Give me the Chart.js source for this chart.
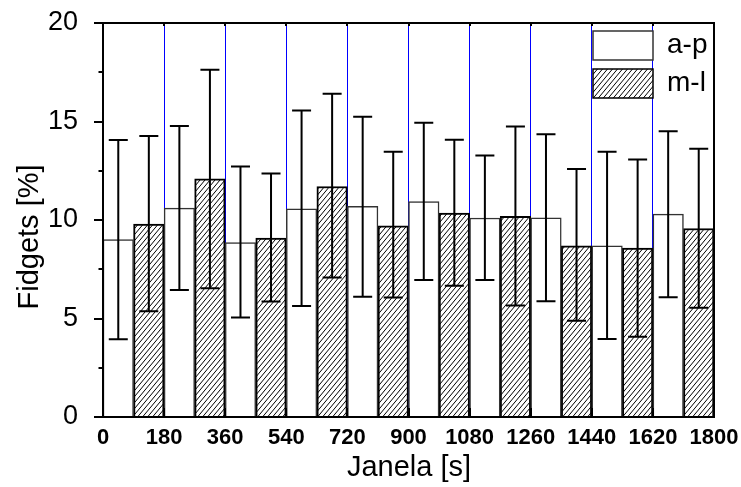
<!DOCTYPE html>
<html>
<head>
<meta charset="utf-8">
<script src="https://cdn.jsdelivr.net/npm/chart.js@4/dist/chart.umd.min.js"></script>
<style>
  html, body { margin: 0; padding: 0; background: #fff; }
</style>
</head>
<body>
<canvas id="grafico" width="741" height="487"></canvas>
<script>
// início de cada janela (s) e largura da janela
const janelas = [0, 180, 360, 540, 720, 900, 1080, 1260, 1440, 1620];
const larguraJanela = 180;

// série a-p (barras brancas): média, limite inferior e superior do erro
const apMedia = [9.0, 10.6, 8.86, 10.57, 10.69, 10.94, 10.10, 10.11, 8.69, 10.30];
const apMin   = [3.95, 6.45, 5.05, 5.64, 6.11, 6.96, 6.96, 5.88, 3.96, 6.08];
const apMax   = [14.06, 14.77, 12.72, 15.56, 15.24, 14.94, 13.28, 14.35, 13.47, 14.50];

// série m-l (barras hachuradas)
const mlMedia = [9.79, 12.09, 9.08, 11.70, 9.71, 10.35, 10.18, 8.69, 8.57, 9.57];
const mlMin   = [5.37, 6.54, 5.86, 7.08, 6.06, 6.66, 5.66, 4.88, 4.07, 5.54];
const mlMax   = [14.26, 17.63, 12.36, 16.41, 13.47, 14.07, 14.74, 12.59, 13.07, 13.62];

const fonte = '"Liberation Sans", Arial, sans-serif';

// padrão de hachura diagonal
function criaHachura() {
    const w = 5, h = 6;
    const c = document.createElement('canvas');
    c.width = w; c.height = h;
    const g = c.getContext('2d');
    g.fillStyle = '#fff';
    g.fillRect(0, 0, w, h);
    g.strokeStyle = '#000';
    g.lineWidth = 1;
    g.beginPath();
    g.moveTo(-w, 2 * h); g.lineTo(2 * w, -h);
    g.moveTo(-2 * w, 2 * h); g.lineTo(w, -h);
    g.moveTo(0, 2 * h); g.lineTo(3 * w, -h);
    g.stroke();
    return document.getElementById('grafico').getContext('2d').createPattern(c, 'repeat');
}
const hachura = criaHachura();

// barras de erro desenhadas depois das barras
const barrasErro = {
    id: 'barrasErro',
    afterDatasetsDraw(chart) {
        const ctx = chart.ctx;
        const y = chart.scales.y;
        ctx.save();
        ctx.strokeStyle = '#000';
        ctx.lineWidth = 2;
        chart.data.datasets.forEach((ds, d) => {
            const meta = chart.getDatasetMeta(d);
            meta.data.forEach((bar, i) => {
                const yLo = y.getPixelForValue(ds.errLow[i]);
                const yHi = y.getPixelForValue(ds.errHigh[i]);
                ctx.beginPath();
                ctx.moveTo(bar.x, yLo); ctx.lineTo(bar.x, yHi);
                ctx.moveTo(bar.x - 9.5, yLo); ctx.lineTo(bar.x + 9.5, yLo);
                ctx.moveTo(bar.x - 9.5, yHi); ctx.lineTo(bar.x + 9.5, yHi);
                ctx.stroke();
            });
        });
        ctx.restore();
    }
};

// moldura, marcas dos eixos, legenda e títulos
const moldura = {
    id: 'moldura',
    afterDraw(chart) {
        const ctx = chart.ctx;
        const a = chart.chartArea;
        const x = chart.scales.x, y = chart.scales.y;
        ctx.save();
        ctx.strokeStyle = '#000';
        ctx.lineWidth = 2;
        ctx.strokeRect(a.left, a.top, a.right - a.left, a.bottom - a.top);

        ctx.beginPath();
        for (let v = 0; v <= 20; v += 2.5) {
            const py = Math.round(y.getPixelForValue(v));
            const len = v % 5 === 0 ? 9 : 4.5;
            ctx.moveTo(a.left, py); ctx.lineTo(a.left - len, py);
        }
        x.ticks.forEach(t => {
            const px = Math.round(x.getPixelForValue(t.value));
            ctx.moveTo(px, a.bottom); ctx.lineTo(px, a.bottom - 9);
            ctx.moveTo(px, a.top); ctx.lineTo(px, a.top + 3);
        });
        ctx.stroke();

        // legenda
        const bx = a.right - 121, bw = 60, bh = 29;
        ctx.fillStyle = '#fff';
        ctx.fillRect(bx, a.top + 8, bw, bh);
        ctx.lineWidth = 1.5;
        ctx.strokeStyle = '#333';
        ctx.strokeRect(bx, a.top + 8, bw, bh);
        ctx.fillStyle = hachura;
        ctx.fillRect(bx, a.top + 46, bw, bh);
        ctx.strokeStyle = '#000';
        ctx.strokeRect(bx, a.top + 46, bw, bh);

        ctx.fillStyle = '#000';
        ctx.font = '28px ' + fonte;
        ctx.textAlign = 'left';
        ctx.textBaseline = 'middle';
        ctx.fillText('a-p', bx + bw + 14, a.top + 8 + bh / 2);
        ctx.fillText('m-l', bx + bw + 14, a.top + 46 + bh / 2);

        // títulos dos eixos
        ctx.font = '29px ' + fonte;
        ctx.textAlign = 'center';
        ctx.fillText('Janela [s]', 409, 468);
        ctx.translate(30, 237);
        ctx.rotate(-Math.PI / 2);
        ctx.fillText('Fidgets [%]', 0, 0);
        ctx.restore();
    }
};

new Chart(document.getElementById('grafico'), {
    type: 'bar',
    data: {
        datasets: [
            {
                label: 'a-p',
                data: janelas.map((j, i) => ({ x: j + larguraJanela / 4, y: apMedia[i] })),
                backgroundColor: '#fff',
                borderColor: '#333',
                borderWidth: 1.5,
                grouped: false,
                barPercentage: 1,
                categoryPercentage: 1,
                errLow: apMin,
                errHigh: apMax
            },
            {
                label: 'm-l',
                data: janelas.map((j, i) => ({ x: j + 3 * larguraJanela / 4, y: mlMedia[i] })),
                backgroundColor: hachura,
                borderColor: '#000',
                borderWidth: 2,
                grouped: false,
                barPercentage: 1,
                categoryPercentage: 1,
                errLow: mlMin,
                errHigh: mlMax
            }
        ]
    },
    options: {
        responsive: false,
        animation: false,
        layout: { padding: { top: 23, right: 27, left: 0, bottom: 0 } },
        plugins: { legend: { display: false }, tooltip: { enabled: false } },
        scales: {
            x: {
                type: 'linear',
                min: 0,
                max: 1800,
                offset: false,
                z: 1,
                grid: {
                    offset: false,
                    drawTicks: false,
                    lineWidth: 1,
                    color: c => (c.tick && (c.tick.value === 0 || c.tick.value === 1800)) ? 'rgba(0,0,0,0)' : '#0000ff'
                },
                border: { display: false },
                ticks: {
                    stepSize: 180,
                    autoSkip: false,
                    maxRotation: 0,
                    padding: 8,
                    color: '#000',
                    font: { family: fonte, size: 22, weight: 'bold' },
                    callback: v => String(v)
                },
                afterFit: s => {
                    s.height = 70;
                    s.paddingLeft = 0; s.paddingRight = 0;
                }
            },
            y: {
                min: 0,
                max: 20,
                grid: { display: false },
                border: { display: false },
                ticks: {
                    stepSize: 5,
                    padding: 17,
                    color: '#000',
                    font: { family: fonte, size: 27 }
                },
                afterFit: s => {
                    s.width = 103;
                    s.paddingTop = 0; s.paddingBottom = 0;
                }
            }
        }
    },
    plugins: [barrasErro, moldura]
});
</script>
</body>
</html>
